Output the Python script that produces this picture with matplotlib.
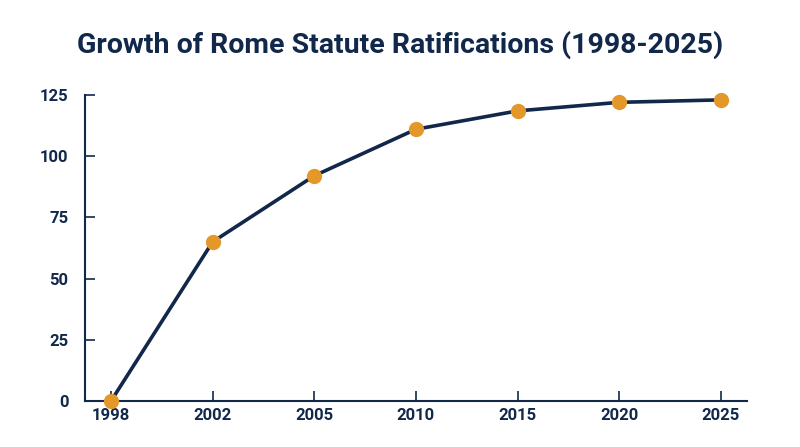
import numpy as np
import matplotlib
matplotlib.use("Agg")
import matplotlib.pyplot as plt

years = ["1998", "2002", "2005", "2010", "2015", "2020", "2025"]
ratifications = [0, 65, 92, 111, 118.5, 122, 123]
y_ticks = [0, 25, 50, 75, 100, 125]
title = "Growth of Rome Statute Ratifications (1998-2025)"

NAVY = "#11284a"
ORANGE = "#e4982a"

plt.rcParams["font.family"] = ["Roboto", "DejaVu Sans"]

fig = plt.figure(figsize=(8, 4.47), dpi=100)
ax = fig.add_axes([0.10625, 0.1029, 0.8272, 0.6846])

x = np.arange(len(years), dtype=float)

ax.plot(x, ratifications, color=NAVY, linewidth=2.6, solid_joinstyle="round",
        solid_capstyle="round", zorder=2, clip_on=False)
ax.plot(x, ratifications, linestyle="none", marker="o", markersize=11,
        color=ORANGE, markeredgewidth=0, zorder=3, clip_on=False)

ax.set_xlim(-0.256, len(years) - 1 + 0.256)
ax.set_ylim(0, 125)
ax.set_xticks(x)
ax.set_xticklabels(years)
ax.set_yticks(y_ticks)

for s in ["top", "right"]:
    ax.spines[s].set_visible(False)
for s in ["left", "bottom"]:
    ax.spines[s].set_color(NAVY)
    ax.spines[s].set_linewidth(1.5)

ax.tick_params(axis="both", direction="in", length=7, width=1.2, color=NAVY,
               labelsize=12, labelcolor=NAVY)
ax.tick_params(axis="x", pad=5)
ax.tick_params(axis="y", pad=12)
for lab in ax.get_xticklabels() + ax.get_yticklabels():
    lab.set_fontweight("bold")

fig.text(0.5, 0.90, title, ha="center", va="center", fontsize=20.5,
         fontweight="bold", color=NAVY)

fig.savefig("out.png", dpi=100, facecolor="white")
